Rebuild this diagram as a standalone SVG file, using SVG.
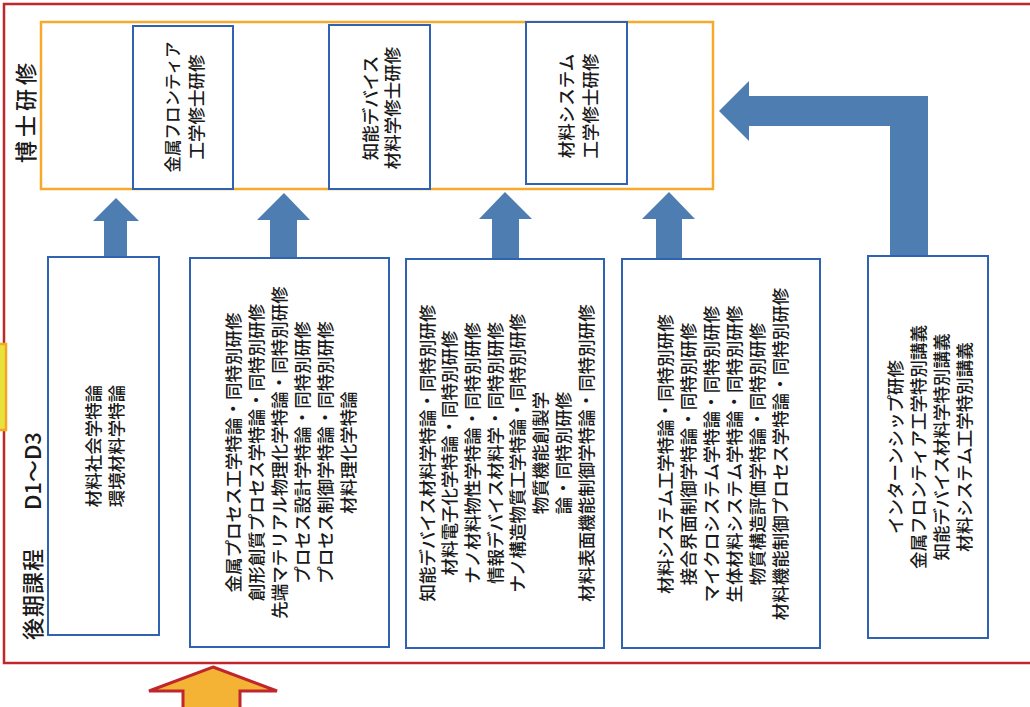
<svg xmlns="http://www.w3.org/2000/svg" width="1030" height="707" viewBox="0 0 1030 707">
<style>
.box{fill:#fff;stroke:#2F62B0;stroke-width:2}
.arr{fill:#4E7DB2}
.t{font-family:"Noto Sans CJK JP","Noto Sans",sans-serif;font-size:17.5px;font-weight:500;fill:#1a1a1a;text-anchor:middle;dominant-baseline:central}
.h{font-family:"Noto Sans CJK JP","Noto Sans",sans-serif;font-size:22px;font-weight:500;fill:#1a1a1a;dominant-baseline:central}
</style>
<rect width="1030" height="707" fill="#fff"/>
<g id="frame">
<rect x="4" y="4" width="1050" height="659" fill="none" stroke="#C0272D" stroke-width="2.5"/>
<rect x="-40" y="344" width="46" height="86" fill="#E8E23C" stroke="#F5A623" stroke-width="2.5"/>
<rect x="41" y="22" width="672" height="167" fill="none" stroke="#F5AA2C" stroke-width="2.5"/>
</g>
<g id="labels">
<text class="h" transform="translate(24,111) rotate(-90)" text-anchor="middle" letter-spacing="4">博士研修</text>
<text class="h" transform="translate(31,640) rotate(-90)" letter-spacing="1">後期課程</text>
<text class="h" transform="translate(31,510) rotate(-90)">D1～D3</text>
</g>
<g id="connectors">
<path class="arr" d="M116,198 L139,221 L127,221 L127,258 L104,258 L104,221 L93,221 Z"/>
<path class="arr" d="M284,193 L310,220 L297,220 L297,259 L270,259 L270,220 L257,220 Z"/>
<path class="arr" d="M505,192 L532,219 L519,219 L519,260 L492,260 L492,219 L479,219 Z"/>
<path class="arr" d="M669,192 L695,219 L682,219 L682,260 L656,260 L656,219 L642,219 Z"/>
<path class="arr" d="M719,111 L749,81 L749,96 L928,96 L928,258 L890,258 L890,126 L749,126 L749,141 Z"/>
<path d="M213,667 L277,691 L240,691 L240,712 L183,712 L183,691 L149,691 Z" fill="#F5B335" stroke="#C0272D" stroke-width="3"/>
</g>
<g id="node-kinzoku-top">
<rect class="box" x="133" y="26" width="100" height="163"/>
<text class="t" transform="translate(183,107) rotate(-90)"><tspan x="0" y="-11.5" font-size="16.5">金属フロンティア</tspan><tspan x="0" y="11.5">工学修士研修</tspan></text>
</g>
<g id="node-chino-top">
<rect class="box" x="329" y="25" width="101" height="164"/>
<text class="t" transform="translate(379.5,108) rotate(-90)"><tspan x="0" y="-11">知能デバイス</tspan><tspan x="0" y="11">材料学修士研修</tspan></text>
</g>
<g id="node-system-top">
<rect class="box" x="526" y="22" width="101" height="162"/>
<text class="t" transform="translate(577,106) rotate(-90)"><tspan x="0" y="-12">材料システム</tspan><tspan x="0" y="12">工学修士研修</tspan></text>
</g>
<g id="node-common">
<rect class="box" x="48" y="257" width="111" height="378"/>
<text class="t" transform="translate(103.5,446) rotate(-90)"><tspan x="0" y="-11.5">材料社会学特論</tspan><tspan x="0" y="11.5">環境材料学特論</tspan></text>
</g>
<g id="node-kinzoku">
<rect class="box" x="190" y="258" width="199" height="389"/>
<text class="t" transform="translate(289.5,452.5) rotate(-90)"><tspan x="0" y="-57.5">金属プロセス工学特論・同特別研修</tspan><tspan x="0" y="-34.5">創形創質プロセス学特論・同特別研修</tspan><tspan x="0" y="-11.5">先端マテリアル物理化学特論・同特別研修</tspan><tspan x="0" y="11.5">プロセス設計学特論・同特別研修</tspan><tspan x="0" y="34.5">プロセス制御学特論・同特別研修</tspan><tspan x="0" y="57.5">材料理化学特論</tspan></text>
</g>
<g id="node-chino">
<rect class="box" x="406" y="259" width="198" height="389"/>
<text class="t" transform="translate(505,453) rotate(-90)"><tspan x="0" y="-79.5">知能デバイス材料学特論・同特別研修</tspan><tspan x="0" y="-56.8">材料電子化学特論・同特別研修</tspan><tspan x="0" y="-34.1">ナノ材料物性学特論・同特別研修</tspan><tspan x="0" y="-11.4">情報デバイス材料学・同特別研修</tspan><tspan x="0" y="11.4">ナノ構造物質工学特論・同特別研修</tspan><tspan x="0" y="34.1">物質機能創製学</tspan><tspan x="0" y="56.8">論・同特別研修</tspan><tspan x="0" y="79.5">材料表面機能制御学特論・同特別研修</tspan></text>
</g>
<g id="node-system">
<rect class="box" x="622" y="259" width="198" height="389"/>
<text class="t" transform="translate(721,454) rotate(-90)"><tspan x="0" y="-57.5">材料システム工学特論・同特別研修</tspan><tspan x="0" y="-34.5">接合界面制御学特論・同特別研修</tspan><tspan x="0" y="-11.5">マイクロシステム学特論・同特別研修</tspan><tspan x="0" y="11.5">生体材料システム学特論・同特別研修</tspan><tspan x="0" y="34.5">物質構造評価学特論・同特別研修</tspan><tspan x="0" y="57.5">材料機能制御プロセス学特論・同特別研修</tspan></text>
</g>
<g id="node-intern">
<rect class="box" x="868" y="256" width="120" height="382"/>
<text class="t" transform="translate(928,447) rotate(-90)"><tspan x="0" y="-34.5">インターンシップ研修</tspan><tspan x="0" y="-11.5">金属フロンティア工学特別講義</tspan><tspan x="0" y="11.5">知能デバイス材料学特別講義</tspan><tspan x="0" y="34.5">材料システム工学特別講義</tspan></text>
</g>
</svg>
